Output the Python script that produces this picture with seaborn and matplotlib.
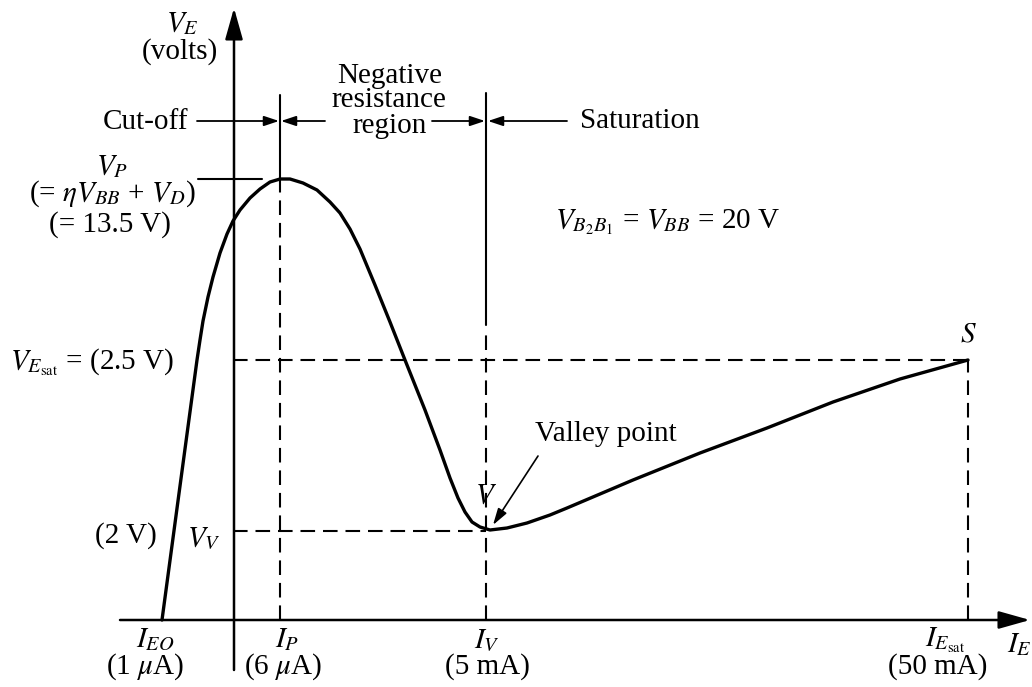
import matplotlib
matplotlib.use('Agg')
import matplotlib.pyplot as plt
import seaborn as sns
import pandas as pd

# UJT emitter characteristic, drawn in diagram units (origin where the axes cross)
curve_ie = [-71, -53, -36, -33, -30, -25, -20, -13, -6, 0, 7, 17, 27, 37, 47, 57, 70,
            84, 97, 107, 117, 127, 142, 157, 172, 192, 207, 217, 225, 232, 239, 247,
            257, 274, 294, 317, 334, 367, 400, 467, 534, 600, 667, 735]
curve_ve = [0, 134, 260, 280, 299, 323, 343, 367, 386, 399, 410, 422, 431, 438, 441,
            441, 437, 430, 418, 407, 391, 371, 335, 298, 260, 210, 170, 142, 122, 108,
            98, 93, 90, 92, 97, 105, 112, 126, 140, 167, 192, 218, 241, 260]

# characteristic points
i_p, i_v, i_esat = 47, 253, 735
v_p, v_esat, v_v = 441, 260, 89

bottom_labels = [r'$I_{EO}$', r'$I_P$', r'$I_V$', r'$I_{E_{\mathrm{sat}}}$']
bottom_values = [r'(1 $\mu$A)', r'(6 $\mu$A)', '(5 mA)', '(50 mA)']

sns.set_style('white')
plt.rcParams['font.family'] = ['Liberation Serif', 'DejaVu Serif']
plt.rcParams['mathtext.fontset'] = 'stix'

fig = plt.figure(figsize=(10.32, 6.87), dpi=100)
ax = fig.add_axes([0, 0, 1, 1])
ax.set_xlim(-233, 799)
ax.set_ylim(-67, 620)
ax.axis('off')


def P(px, py):
    # picture position -> diagram units
    return px - 233, 620 - py


FS = 21
k = dict(color='black')

# axes with arrowheads
ax.annotate('', xy=P(1030, 620), xytext=P(120, 620),
            arrowprops=dict(arrowstyle='-|>,head_length=1.6,head_width=0.45', lw=1.8,
                            color='black', shrinkA=0, shrinkB=0, mutation_scale=12))
ax.annotate('', xy=P(234, 8), xytext=P(234, 670),
            arrowprops=dict(arrowstyle='-|>,head_length=1.6,head_width=0.45', lw=1.8,
                            color='black', shrinkA=0, shrinkB=0, mutation_scale=12))

# curve
df = pd.DataFrame({'ie': curve_ie, 've': curve_ve})
sns.lineplot(data=df, x='ie', y='ve', sort=False, estimator=None, color='black',
             lw=2.4, ax=ax)
ax.lines[-1].set_solid_joinstyle('round')
ax.set_xlabel('')
ax.set_ylabel('')

dash = dict(color='black', lw=1.5, dashes=(7, 3.8))
ax.plot([i_p, i_p], [0, v_p], **dash)
ax.plot([i_v, i_v], [0, 290], **dash)
ax.plot([i_esat, i_esat], [0, v_esat], **dash)
ax.plot([0, i_esat], [v_esat, v_esat], **dash)
ax.plot([0, i_v], [v_v, v_v], **dash)

# solid region boundaries
ax.plot([i_p, i_p], [v_p, 525], color='black', lw=1.5)
ax.plot([i_v, i_v], [295, 527], color='black', lw=1.5)
ax.plot([-35, 29], [v_p, v_p], color='black', lw=1.5)

# region arrows
row = 499
small = dict(arrowstyle='-|>,head_length=0.9,head_width=0.3', lw=1.3, color='black',
             shrinkA=0, shrinkB=0, mutation_scale=10)
for x0, x1 in [(-36, i_p - 1), (92, i_p + 1), (199, i_v - 1), (334, i_v + 2)]:
    ax.annotate('', xy=(x1, row), xytext=(x0, row), arrowprops=small)

# texts
ax.text(*P(182, 24), r'$V_E$', fontsize=FS, ha='center', va='center', **k)
ax.text(*P(180, 52), '(volts)', fontsize=FS, ha='center', va='center', **k)
ax.text(*P(188, 122), 'Cut-off', fontsize=FS, ha='right', va='center', **k)
ax.text(*P(390, 76), 'Negative', fontsize=FS, ha='center', va='center', **k)
ax.text(*P(389, 100), 'resistance', fontsize=FS, ha='center', va='center', **k)
ax.text(*P(390, 126), 'region', fontsize=FS, ha='center', va='center', **k)
ax.text(*P(580, 121), 'Saturation', fontsize=FS, ha='left', va='center', **k)

ax.text(*P(112, 167), r'$V_P$', fontsize=FS, ha='center', va='center', **k)
ax.text(*P(112, 194), r'(= $\eta V_{BB}$ + $V_D$)', fontsize=FS, ha='center', va='center', **k)
ax.text(*P(110, 225), '(= 13.5 V)', fontsize=FS, ha='center', va='center', **k)
ax.text(*P(555, 222), r'$V_{B_2B_1}$ = $V_{BB}$ = 20 V', fontsize=FS, ha='left',
        va='center', **k)
ax.text(*P(10, 362), r'$V_{E_{\mathrm{sat}}}$ = (2.5 V)', fontsize=FS, ha='left',
        va='center', **k)
ax.text(*P(126, 536), '(2 V)', fontsize=FS, ha='center', va='center', **k)
ax.text(*P(204, 538), r'$V_V$', fontsize=FS, ha='center', va='center', **k)
ax.text(i_esat, v_esat + 12, r'$S$', fontsize=FS, ha='center', va='bottom', **k)
ax.text(*P(486, 496), r'$V$', fontsize=FS, ha='center', va='center', **k)
ax.text(*P(535, 434), 'Valley point', fontsize=FS, ha='left', va='center', **k)
ax.annotate('', xy=P(493, 525), xytext=P(538, 456),
            arrowprops=dict(arrowstyle='-|>,head_length=1.0,head_width=0.3', lw=1.2,
                            color='black', shrinkA=0, shrinkB=0, mutation_scale=10))

label_x = [P(155, 0)[0], P(287, 0)[0], P(487, 0)[0], P(945, 0)[0]]
value_x = [P(145, 0)[0], P(283, 0)[0], P(487, 0)[0], P(938, 0)[0]]
for lx, vx, lab, val in zip(label_x, value_x, bottom_labels, bottom_values):
    ax.text(lx, P(0, 640)[1], lab, fontsize=FS, ha='center', va='center', **k)
    ax.text(vx, P(0, 667)[1], val, fontsize=FS, ha='center', va='center', **k)
ax.text(*P(1007, 645), r'$I_E$', fontsize=FS, ha='left', va='center', **k)

fig.savefig('out.png', dpi=100)
